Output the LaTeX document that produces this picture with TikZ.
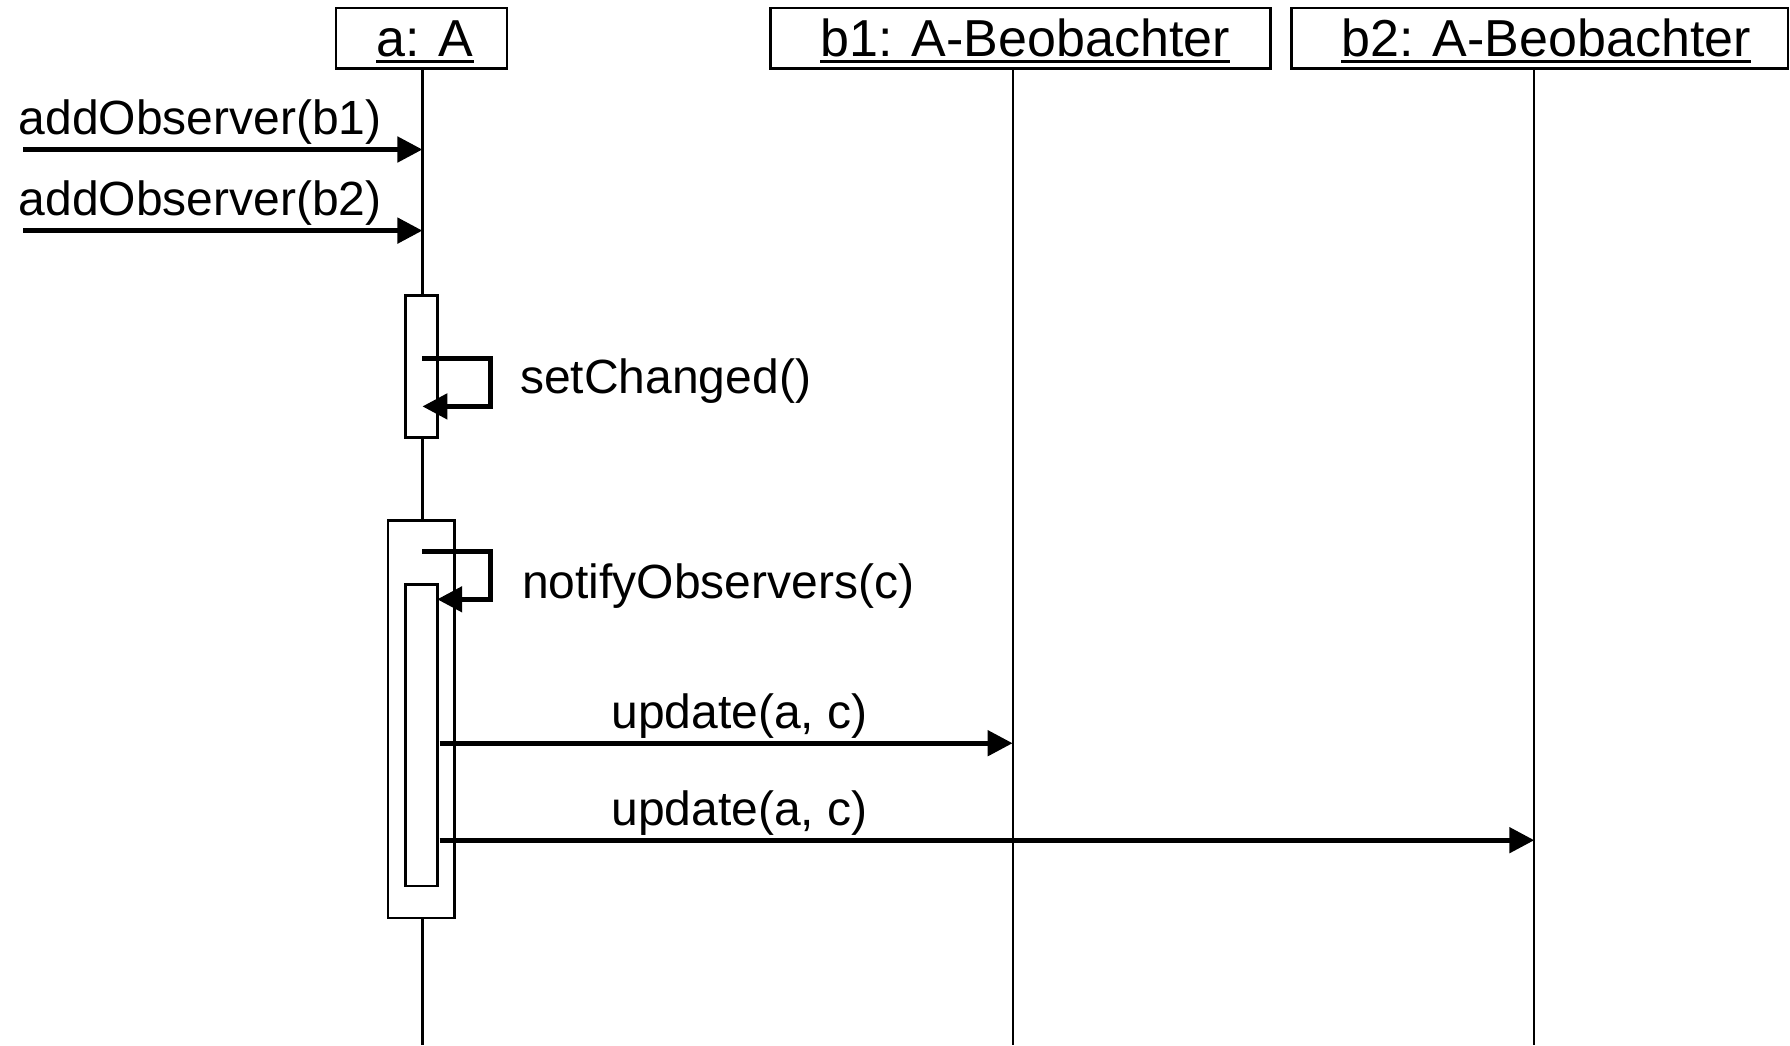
\documentclass[tikz,border=0pt]{standalone}
\usepackage{fontspec}
\setmainfont{Liberation Sans}
\usetikzlibrary{arrows.meta}
\newcommand\ulx[1]{\setbox0\hbox{#1}\rlap{\rule[-6.5pt]{\wd0}{2.8pt}}\box0}
\tikzset{
  objbox/.style={draw, line width=2.6pt, fill=white, inner sep=0pt},
  titletext/.style={anchor=base, font=\fontsize{52}{60}\selectfont, inner sep=0pt},
  lbl/.style={font=\fontsize{48}{56}\selectfont, inner sep=0pt},
  life/.style={line width=2.2pt},
  actbox/.style={draw, line width=2.6pt, fill=white, inner sep=0pt},
  msg/.style={line width=5pt, -{Triangle[length=25pt,width=25pt]}},
}
\begin{document}
\begin{tikzpicture}[x=1pt,y=-1pt]
\useasboundingbox (0,0) rectangle (1790,1045);
\fill[white] (0,0) rectangle (1790,1045);

% object boxes
\node[objbox, minimum width=171pt, minimum height=60.5pt] (a) at (421.5,38.25) {};
\node[objbox, minimum width=500pt, minimum height=60.5pt] (b1) at (1020.6,38.25) {};
\node[objbox, minimum width=496.6pt, minimum height=60.5pt] (b2) at (1539.5,38.25) {};
\node[titletext] (ta) at (425,56.7) {\ulx{a: A}};
\node[titletext] (tb1) at (1025,56.7) {\ulx{b1: A-Beobachter}};
\node[titletext] (tb2) at (1546,56.7) {\ulx{b2: A-Beobachter}};

% lifeline bottoms
\coordinate (abot) at (422.4,1045);
\coordinate (b1bot) at (1012.6,1045);
\coordinate (b2bot) at (1534.3,1045);
\draw[life] (a.south -| abot) -- (abot);
\draw[life] (b1.south -| b1bot) -- (b1bot);
\draw[life] (b2.south -| b2bot) -- (b2bot);

% activation boxes
\node[actbox, minimum width=31.9pt, minimum height=141.5pt] (act1) at (421.25,366.45) {};
\node[actbox, minimum width=66.3pt, minimum height=397.3pt] (outer) at (421.25,719.25) {};
\node[actbox, minimum width=31.9pt, minimum height=301.4pt] (inner) at (421.25,735.2) {};

% incoming messages
\coordinate (m1s) at (23,149.5);
\coordinate (m2s) at (23,230.6);
\draw[msg] (m1s) -- (m1s -| abot);
\draw[msg] (m2s) -- (m2s -| abot);
\node[lbl, anchor=base west] (l1) at (18.5,134.5) {addObserver(b1)};
\node[lbl, anchor=base west] (l2) at (18.5,215.6) {addObserver(b2)};

% self call setChanged
\coordinate (s1a) at (422.4,358.5);
\coordinate (s1b) at (422.4,406.4);
\draw[msg] (s1a) -- (490.9,358.5) |- (s1b);
\node[lbl, anchor=base west] (l3) at (520,393) {setChanged()};

% self call notifyObservers
\coordinate (s2a) at (422.4,551.4);
\coordinate (s2b) at (437.2,599.3);
\draw[msg] (s2a) -- (490.9,551.4) |- (s2b);
\node[lbl, anchor=base west] (l4) at (522,598) {notifyObservers(c)};

% updates
\coordinate (u1s) at (439.5,743.2);
\coordinate (u2s) at (439.5,840.2);
\draw[msg] (u1s) -- (u1s -| b1bot);
\draw[msg] (u2s) -- (u2s -| b2bot);
\node[lbl, anchor=base] (l5) at (739.5,728.2) {update(a, c)};
\node[lbl, anchor=base] (l6) at (739.5,825.2) {update(a, c)};
\end{tikzpicture}
\end{document}
